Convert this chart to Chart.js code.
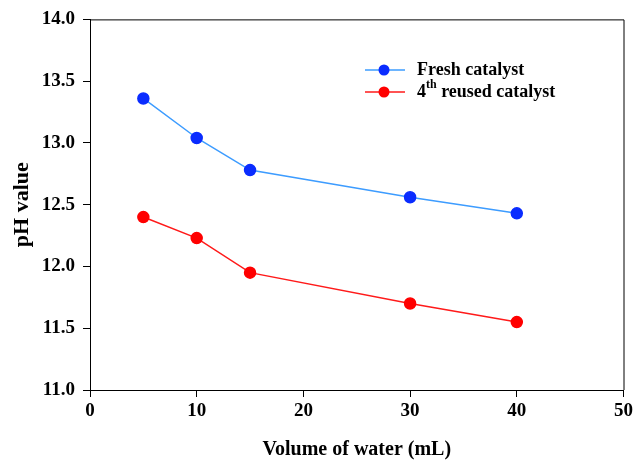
<!DOCTYPE html>
<html>
<head>
<meta charset="utf-8">
<script src="https://cdn.jsdelivr.net/npm/chart.js@4.4.0/dist/chart.umd.min.js"></script>
<style>
  html, body { margin: 0; padding: 0; background: #fff; }
  #wrap { width: 636px; height: 460px; }
</style>
</head>
<body>
<div id="wrap"><canvas id="graph" width="636" height="460"></canvas></div>
<script>
const volumes = [5, 10, 15, 30, 40];
const freshPH = [13.36, 13.04, 12.78, 12.56, 12.43];
const reusedPH = [12.40, 12.23, 11.95, 11.70, 11.55];
const xTicks = [0, 10, 20, 30, 40, 50];
const yTicks = [11.0, 11.5, 12.0, 12.5, 13.0, 13.5, 14.0];

const fontFamily = '"Liberation Serif", "Times New Roman", serif';

function toPoints(xs, ys) {
    return xs.map((x, i) => ({ x: x, y: ys[i] }));
}

// box around the plot area (top and right sides)
const frame = {
    id: 'frame',
    afterDraw(chart) {
        const a = chart.chartArea;
        const ctx = chart.ctx;
        ctx.save();
        ctx.strokeStyle = '#000';
        ctx.lineWidth = 1;
        ctx.beginPath();
        ctx.moveTo(a.left, a.top + 0.5);
        ctx.lineTo(a.right + 0.5, a.top + 0.5);
        ctx.lineTo(a.right + 0.5, a.bottom);
        ctx.stroke();
        ctx.restore();
    }
};

// legend with a superscript "th"
const legendBox = {
    id: 'legendBox',
    afterDraw(chart) {
        const ctx = chart.ctx;
        const items = [
            { ds: chart.data.datasets[0], parts: [['Fresh catalyst', false]] },
            { ds: chart.data.datasets[1], parts: [['4', false], ['th', true], [' reused catalyst', false]] }
        ];
        const x0 = 365, x1 = 405, tx = 417;
        let y = 70;
        ctx.save();
        items.forEach(it => {
            ctx.strokeStyle = it.ds.borderColor;
            ctx.lineWidth = 1.5;
            ctx.beginPath();
            ctx.moveTo(x0, y);
            ctx.lineTo(x1, y);
            ctx.stroke();
            ctx.fillStyle = it.ds.pointBackgroundColor;
            ctx.beginPath();
            ctx.arc(384, y, 5.5, 0, Math.PI * 2);
            ctx.fill();
            let cx = tx;
            ctx.fillStyle = '#000';
            ctx.textBaseline = 'middle';
            it.parts.forEach(([txt, sup]) => {
                ctx.font = (sup ? 'bold 12px ' : 'bold 18px ') + fontFamily;
                ctx.fillText(txt, cx, sup ? y - 7 : y);
                cx += ctx.measureText(txt).width;
            });
            y += 22;
        });
        ctx.restore();
    }
};

const ctx = document.getElementById('graph').getContext('2d');
new Chart(ctx, {
    type: 'scatter',
    data: {
        datasets: [{
            label: 'Fresh catalyst',
            data: toPoints(volumes, freshPH),
            showLine: true,
            borderColor: '#3d9cff',
            borderWidth: 1.5,
            pointBackgroundColor: '#0a2cff',
            pointBorderColor: '#0a2cff',
            pointRadius: 5.5,
            backgroundColor: '#0a2cff'
        }, {
            label: '4th reused catalyst',
            data: toPoints(volumes, reusedPH),
            showLine: true,
            borderColor: '#ff1a1a',
            borderWidth: 1.5,
            pointBackgroundColor: '#ff0000',
            pointBorderColor: '#ff0000',
            pointRadius: 5.5,
            backgroundColor: '#ff0000'
        }]
    },
    options: {
        responsive: false,
        animation: false,
        layout: { padding: { top: 17, right: 10, left: 0, bottom: 0 } },
        plugins: {
            legend: { display: false },
            tooltip: { enabled: false }
        },
        scales: {
            x: {
                type: 'linear',
                min: 0,
                max: 50,
                afterBuildTicks: axis => { axis.ticks = xTicks.map(v => ({ value: v })); },
                afterFit: axis => { axis.height = 70; },
                grid: { drawOnChartArea: false, drawTicks: true, tickLength: 7, color: '#000' },
                border: { display: true, color: '#000', width: 1 },
                ticks: {
                    color: '#000',
                    padding: 3,
                    font: { family: fontFamily, size: 19, weight: 'bold' }
                },
                title: {
                    display: true,
                    text: 'Volume of water (mL)',
                    color: '#000',
                    padding: { top: 0, bottom: 0 },
                    font: { family: fontFamily, size: 20, weight: 'bold', lineHeight: 1 }
                }
            },
            y: {
                min: 11,
                max: 14,
                afterBuildTicks: axis => { axis.ticks = yTicks.map(v => ({ value: v })); },
                afterFit: axis => { axis.width = 90; },
                grid: { drawOnChartArea: false, drawTicks: true, tickLength: 7, color: '#000' },
                border: { display: true, color: '#000', width: 1 },
                ticks: {
                    color: '#000',
                    padding: 8,
                    font: { family: fontFamily, size: 19, weight: 'bold' },
                    callback: v => Number(v).toFixed(1)
                },
                title: {
                    display: true,
                    text: 'pH value',
                    color: '#000',
                    padding: { top: 9, bottom: 0 },
                    font: { family: fontFamily, size: 22, weight: 'bold' }
                }
            }
        }
    },
    plugins: [frame, legendBox]
});
</script>
</body>
</html>
